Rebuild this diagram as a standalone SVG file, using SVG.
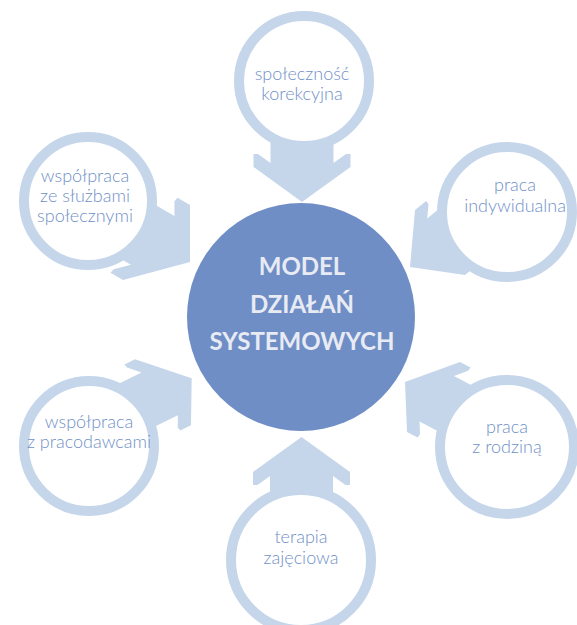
<svg xmlns="http://www.w3.org/2000/svg" width="577" height="625" viewBox="0 0 577 625">
  <defs>
    <style>
      .ring { fill: #ffffff; stroke: #c5d6eb; stroke-width: 10; }
      .arrow { fill: #c5d6eb; }
      .core { fill: #6f8ec6; }
      .lbl { font-family: Lato, "Liberation Sans", sans-serif; font-size: 18px; font-weight: 300; fill: #7090c8; text-anchor: middle; }
      .title { font-family: Lato, "Liberation Sans", sans-serif; font-size: 24px; font-weight: 700; fill: #e8ebf3; text-anchor: middle; }
    </style>
    <!-- block arrow pointing along +y, tip at the origin -->
    <path id="blockArrow" d="M0,0 L48.5,-35 L48.5,-48 L44,-48 L31.5,-39 L31.5,-110 L-31.5,-110 L-31.5,-39 L-44,-48 L-48.5,-48 L-48.5,-35 Z"/>
  </defs>

  <g id="connectors">
    <use href="#blockArrow" class="arrow" transform="translate(302,202)"/>
    <use href="#blockArrow" class="arrow" transform="matrix(0.691,-0.773,0.957,0.557,190,262)"/>
    <use href="#blockArrow" class="arrow" transform="matrix(0.515,0.670,-0.857,0.7,410,267)"/>
    <use href="#blockArrow" class="arrow" transform="matrix(-0.577,-0.680,0.82,-0.4,191.7,378.3)"/>
    <use href="#blockArrow" class="arrow" transform="matrix(-0.546,0.722,-0.814,-0.429,405,382)"/>
    <use href="#blockArrow" class="arrow" transform="translate(301.5,437) rotate(180)"/>
  </g>

  <g id="node-spolecznosc">
    <circle class="ring" cx="304" cy="81" r="65"/>
    <text class="lbl" x="302" y="80">społeczność</text>
    <text class="lbl" x="302" y="100">korekcyjna</text>
  </g>

  <g id="node-sluzby">
    <circle class="ring" cx="88" cy="201" r="64"/>
    <text class="lbl" x="85" y="182">współpraca</text>
    <text class="lbl" x="85" y="202">ze służbami</text>
    <text class="lbl" x="85" y="222">społecznymi</text>
  </g>

  <g id="node-indywidualna">
    <circle class="ring" cx="507" cy="212" r="65"/>
    <text class="lbl" x="515" y="191">praca</text>
    <text class="lbl" x="515" y="212">indywidualna</text>
  </g>

  <g id="node-pracodawcy">
    <circle class="ring" cx="89" cy="446" r="65"/>
    <text class="lbl" x="89" y="428">współpraca</text>
    <text class="lbl" x="89" y="448">z pracodawcami</text>
  </g>

  <g id="node-rodzina">
    <circle class="ring" cx="507" cy="447" r="67"/>
    <text class="lbl" x="507" y="433">praca</text>
    <text class="lbl" x="507" y="453">z rodziną</text>
  </g>

  <g id="node-terapia">
    <circle class="ring" cx="301" cy="560" r="70"/>
    <text class="lbl" x="301" y="543">terapia</text>
    <text class="lbl" x="301" y="564">zajęciowa</text>
  </g>

  <g id="node-model">
    <circle class="core" cx="301" cy="317" r="114"/>
    <text class="title" x="302" y="275">MODEL</text>
    <text class="title" x="302" y="313">DZIAŁAŃ</text>
    <text class="title" x="302" y="350">SYSTEMOWYCH</text>
  </g>
</svg>
